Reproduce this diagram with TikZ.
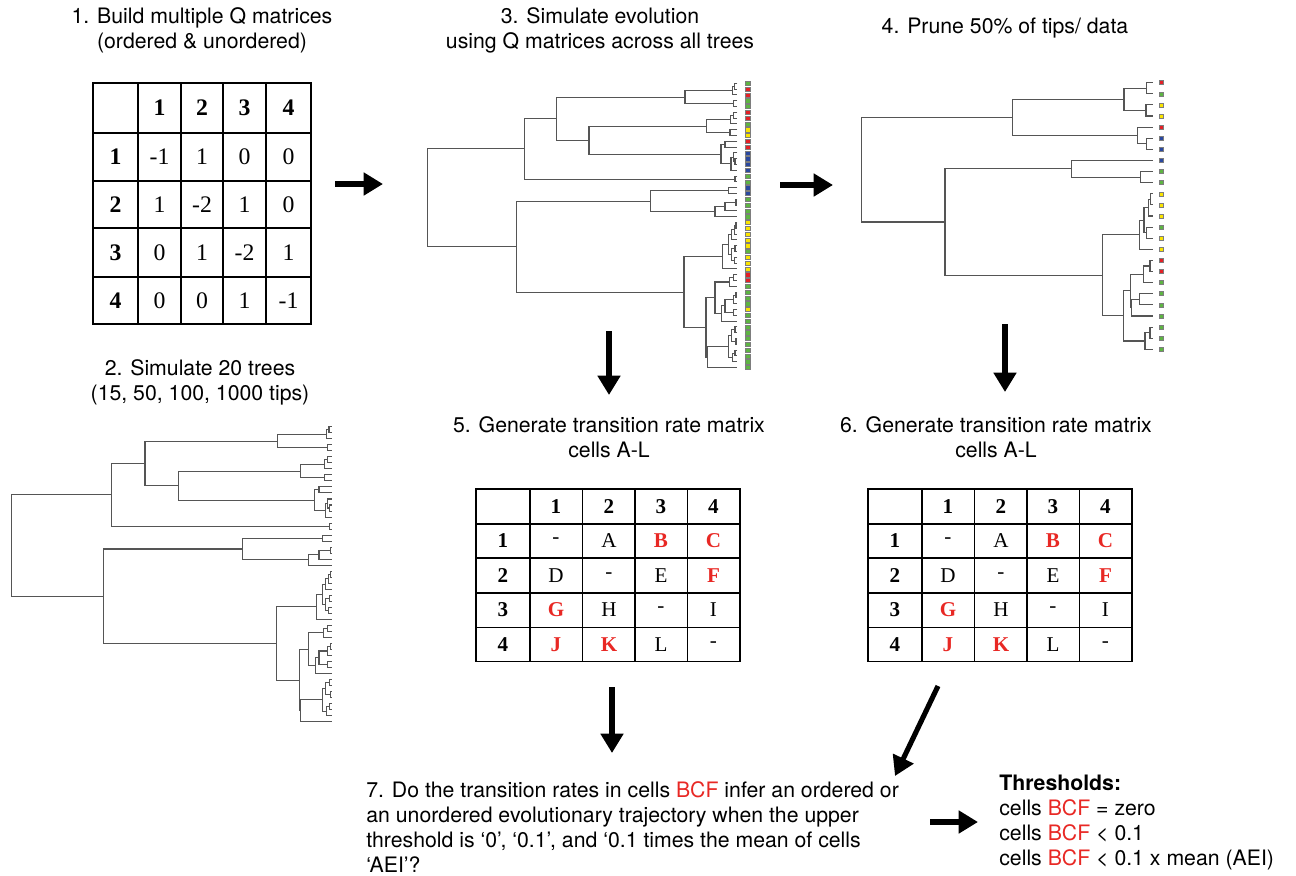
\documentclass[tikz,border=0pt]{standalone}
\usepackage{fontspec}
\setmainfont{TeX Gyre Heros}
\newfontfamily\tabfont{Liberation Serif}
\usetikzlibrary{arrows.meta}

\definecolor{tipg}{RGB}{93,180,66}
\definecolor{tipr}{RGB}{228,32,38}
\definecolor{tipy}{RGB}{250,228,0}
\definecolor{tipb}{RGB}{42,72,160}
\definecolor{boxgrey}{RGB}{125,125,125}
\definecolor{treegrey}{RGB}{85,85,85}
\definecolor{ratered}{RGB}{232,40,36}

\newcommand\redcell[1]{\textcolor{ratered}{\textbf{#1}}}

% branches of the 50 tip tree: parent x / y child 1 / x child 1 / y child 2 / x child 2
\newcommand\bigtree{83/236.5/373/529.9/350, 373/145.8/470/327.1/1005,
  470/81.4/855/210.2/567, 855/61.8/998/100.9/1000, 998/48.7/1004/74.8/1012,
  1004/40/1012/57.4/1012, 1000/92.2/1012/109.6/1012, 567/168.3/920/252.1/963,
  920/148.7/992/187.9/990, 992/135.7/1000/161.8/1012, 1000/127/1012/144.4/1012,
  990/179.2/1012/196.6/1012, 963/222.7/975/281.4/993, 975/214/1012/231.4/1012,
  993/261.9/1000/301/1012, 1000/248.8/1012/274.9/1005, 1005/266.2/1012/283.6/1012,
  1005/318.4/1012/335.8/1012, 350/393.4/752/666.3/852, 752/361.9/985/425/945,
  985/353.2/1012/370.6/1012, 945/409.8/975/440.2/1012, 975/396.7/1008/422.8/1012,
  1008/388/1012/405.4/1012, 852/560.4/968/772.2/918, 968/523.9/985/596.8/1012,
  985/494.6/995/553.3/995, 995/479.4/1003/509.8/1012, 1003/466.3/1008/492.4/1012,
  1008/457.6/1012/475/1012, 995/535.9/1005/570.7/1003, 1005/527.2/1012/544.6/1012,
  1003/562/1012/579.4/1012, 918/683.3/945/861/922, 945/636/988/730.6/965,
  988/622.9/1000/649/1012, 1000/614.2/1012/631.6/1012, 965/707.7/975/753.4/1012,
  975/688.2/1000/727.3/1000, 1000/675.1/1008/701.2/1012, 1008/666.4/1012/683.8/1012,
  1000/718.6/1012/736/1012, 922/829.5/985/892.6/1012, 985/796.9/995/862.2/998,
  995/779.5/1005/814.3/1008, 1005/770.8/1012/788.2/1012, 1008/805.6/1012/823/1012,
  998/849.1/1005/875.2/1012, 1005/840.4/1012/857.8/1012}

% branches of the pruned tree
\newcommand\smalltree{125/172.2/578/486/375, 578/118/912/226.3/952,
  912/84.7/980/151.3/978, 980/68/998/101.3/998, 978/134.7/998/168/998,
  952/201.3/998/251.3/980, 980/234.7/998/268/998, 375/326.3/755/645.5/848,
  755/301.3/998/351.3/962, 962/334.7/998/368/998, 848/523/958/767.8/910,
  958/480.5/972/568/998, 972/443/985/518/980, 985/418/992/468/998,
  992/401.3/998/434.7/998, 980/501.3/998/534.7/998, 910/692.5/932/843/975,
  932/643/970/743/935, 970/618/990/668/998, 990/601.3/998/634.7/998,
  935/718/958/768/998, 958/701.3/998/734.7/998, 975/818/990/868/998,
  990/801.3/998/834.7/998}

\tikzset{
  caption/.style={font=\fontsize{12.1}{14.2}\selectfont, align=center, inner sep=0pt},
  branch/.style={draw=treegrey, line width=0.6pt},
  tipbox/.style={draw=boxgrey, line width=0.3pt},
  bigarrow/.style={line width=2.9pt, -{Triangle[length=11pt,width=12.5pt]}},
  qgrid/.style={line width=1.1pt, line cap=rect},
  rgrid/.style={line width=0.9pt, line cap=rect},
  qcell/.style={font=\tabfont\fontsize{13.5}{15}\selectfont, inner sep=0pt},
  rcell/.style={font=\tabfont\fontsize{12}{14}\selectfont, inner sep=0pt}
}

\begin{document}
\begin{tikzpicture}[x=0.02cm, y=-0.02cm]
\useasboundingbox (0,0) rectangle (1296,876);

% step captions
\node[caption] (cap1) at (202,30.5) {1. Build multiple Q matrices\\(ordered \& unordered)};
\node[caption] (cap2) at (200,382) {2. Simulate 20 trees\\(15, 50, 100, 1000 tips)};
\node[caption] (cap3) at (600,30.5) {3. Simulate evolution\\using Q matrices across all trees};
\node[caption] (cap4) at (1005,28) {4. Prune 50\% of tips/ data};
\node[caption] (cap5) at (609,437) {5. Generate transition rate matrix\\cells A-L};
\node[caption] (cap6) at (996,437) {6. Generate transition rate matrix\\cells A-L};
\node[caption, align=left, anchor=north west] (cap7) at (366,781)
  {7. Do the transition rates in cells \textcolor{ratered}{BCF} infer an ordered or\\
   an unordered evolutionary trajectory when the upper\\
   threshold is ‘0’, ‘0.1’, and ‘0.1 times the mean of cells\\
   ‘AEI’?};
\node[caption, align=left, anchor=north west] (thr) at (999,775)
  {\textbf{Thresholds:}\\
   cells \textcolor{ratered}{BCF} = zero\\
   cells \textcolor{ratered}{BCF} < 0.1\\
   cells \textcolor{ratered}{BCF} < 0.1 x mean (AEI)};

% Q matrix
\foreach \x in {93,138,181,223,266,311}
  \draw[qgrid] (\x,83) -- (\x,324);
\foreach \y in {83,133,181,228,277,324}
  \draw[qgrid] (93,\y) -- (311,\y);
\foreach \cx/\ry [count=\i] in {159.5/157,202/204.5,244.5/252.5,288.5/300.5}{
  \node[qcell] (qc\i) at (\cx,108) {\textbf{\i}};
  \node[qcell] (qr\i) at (115.5,\ry) {\textbf{\i}};
}
\foreach \ry/\a/\b/\c/\d [count=\r] in {157/-1/1/0/0, 204.5/1/-2/1/0, 252.5/0/1/-2/1, 300.5/0/0/1/-1}{
  \node[qcell] (q\r-1) at (159.5,\ry) {\a};
  \node[qcell] (q\r-2) at (202,\ry) {\b};
  \node[qcell] (q\r-3) at (244.5,\ry) {\c};
  \node[qcell] (q\r-4) at (288.5,\ry) {\d};
}

% rate matrices
\foreach \t/\ox in {five/476, six/868}{
  \begin{scope}[shift={(\ox,489)}]
    \foreach \x in {0,54,106.5,159,211.5,264}
      \draw[rgrid] (\x,0) -- (\x,172.5);
    \foreach \y in {0,35,69,104,138.5,172.5}
      \draw[rgrid] (0,\y) -- (264,\y);
    \foreach \cx/\ry [count=\i] in {80/52,133/86.5,185/121,237.5/155.5}{
      \node[rcell] (\t c\i) at (\cx,17.5) {\textbf{\i}};
      \node[rcell] (\t r\i) at (27,\ry) {\textbf{\i}};
    }
    \foreach \ry/\a/\b/\c/\d [count=\r] in {52/-/A/\redcell{B}/\redcell{C},
        86.5/D/-/E/\redcell{F}, 121/\redcell{G}/H/-/I, 155.5/\redcell{J}/\redcell{K}/L/-}{
      \node[rcell] (\t\r-1) at (80,\ry) {\a};
      \node[rcell] (\t\r-2) at (133,\ry) {\b};
      \node[rcell] (\t\r-3) at (185,\ry) {\c};
      \node[rcell] (\t\r-4) at (237.5,\ry) {\d};
    }
  \end{scope}
}

% simulated tree
\begin{scope}[shift={(-16.9,412.9)}, xscale=0.3445, yscale=0.346]
  \foreach \px/\ya/\xa/\yb/\xb in \bigtree
    \draw[branch] (\xa,\ya) -- (\px,\ya) -- (\px,\yb) -- (\xb,\yb);
\end{scope}

% tree with simulated states
\begin{scope}[shift={(400,70)}, scale=1/3]
  \foreach \px/\ya/\xa/\yb/\xb in \bigtree
    \draw[branch] (\xa,\ya) -- (\px,\ya) -- (\px,\yb) -- (\xb,\yb);
  \foreach \c [count=\i from 0] in {g,r,r,g,g,r,r,g,y,y,r,r,b,b,b,b,g,g,b,b,
      g,g,g,g,y,y,y,y,y,g,y,y,y,r,r,g,g,g,g,y,g,g,g,g,g,g,g,g,g,g}
    \filldraw[tipbox, fill=tip\c] (1037,{40+17.4*\i-6.5}) rectangle +(13,13);
\end{scope}

% pruned tree
\begin{scope}[shift={(820,60)}, scale=1/3]
  \foreach \px/\ya/\xa/\yb/\xb in \smalltree
    \draw[branch] (\xa,\ya) -- (\px,\ya) -- (\px,\yb) -- (\xb,\yb);
  \foreach \c [count=\i from 0] in {r,g,y,y,r,b,b,b,g,g,y,y,y,g,y,y,r,r,g,g,g,g,g,g,g}
    \filldraw[tipbox, fill=tip\c] (1019,{68+33.33*\i-6}) rectangle +(12,12);
\end{scope}

% arrows
\coordinate (a1s) at (335,184);
\coordinate (a1e) at (383,184);
\coordinate (a2s) at (780,185);
\coordinate (a2e) at (833,185);
\coordinate (a3s) at (609,331);
\coordinate (a3e) at (609,395);
\coordinate (a4s) at (1005,324);
\coordinate (a4e) at (1005,392);
\coordinate (a5s) at (612,687);
\coordinate (a5e) at (612,753);
\coordinate (a6s) at (938,686);
\coordinate (a6e) at (895,776);
\coordinate (a7s) at (930,822);
\coordinate (a7e) at (978,822);
\draw[bigarrow] (a1s) -- (a1e);
\draw[bigarrow] (a2s) -- (a2e);
\draw[bigarrow] (a3s) -- (a3e);
\draw[bigarrow] (a4s) -- (a4e);
\draw[bigarrow] (a5s) -- (a5e);
\draw[bigarrow] (a6s) -- (a6e);
\draw[bigarrow] (a7s) -- (a7e);
\end{tikzpicture}
\end{document}
